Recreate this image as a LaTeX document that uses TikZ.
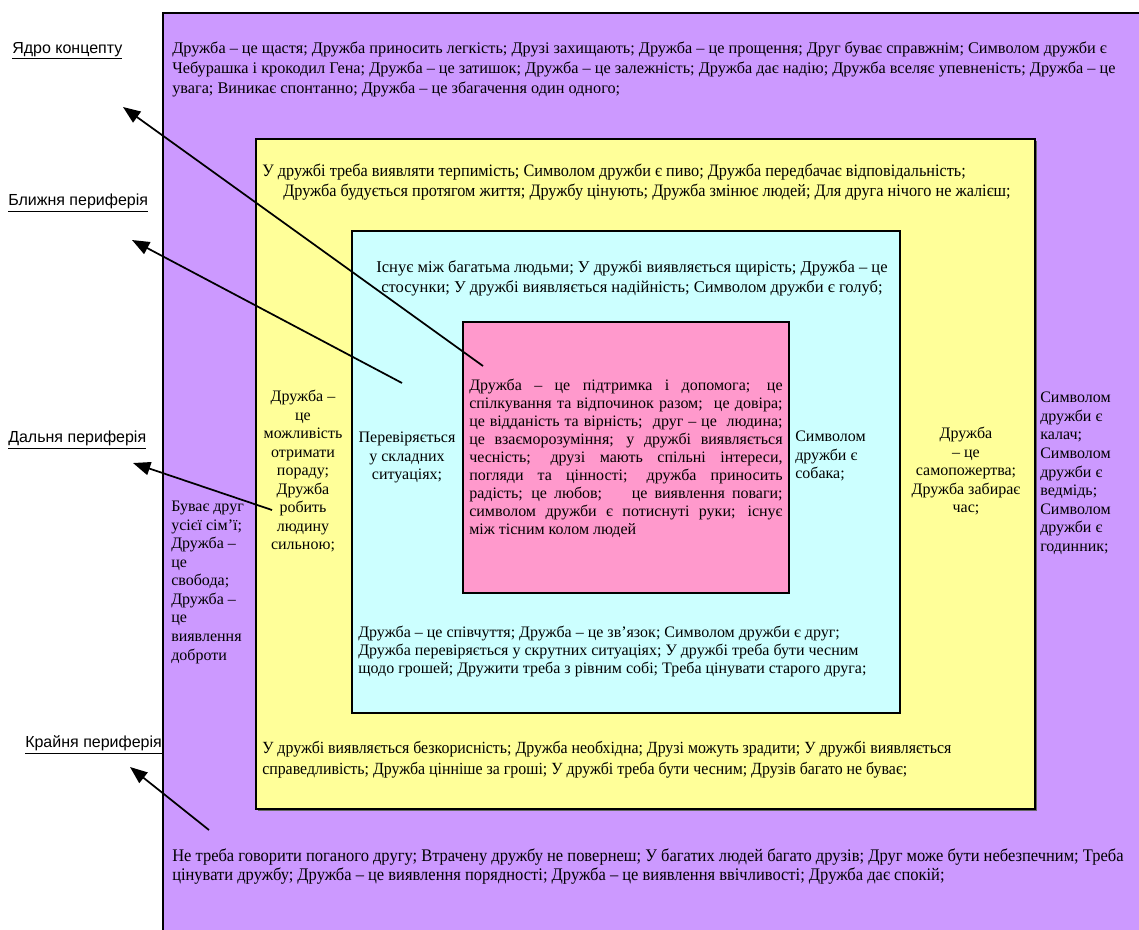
\documentclass[tikz,border=0pt]{standalone}
\usepackage{fontspec}
\setmainfont{Liberation Serif}
\newfontfamily\lblfont{Liberation Sans}
\newfontfamily\narrowfont[FakeStretch=0.93]{Liberation Serif}
\usepackage{tikz}
\usetikzlibrary{positioning,arrows.meta}

\definecolor{zonepurple}{RGB}{204,153,255}
\definecolor{zoneyellow}{RGB}{255,255,153}
\definecolor{zonecyan}{RGB}{204,255,255}
\definecolor{zonepink}{RGB}{255,153,204}

\tikzset{
  zone/.style={draw=black, line width=1.2pt, anchor=north west, inner sep=0pt},
  txt/.style={inner sep=0pt, font=\fontsize{12.2}{15}\selectfont},
  coltxt/.style={inner sep=0pt, font=\fontsize{12}{13.9}\selectfont},
  lbl/.style={inner sep=0pt, anchor=west, font=\lblfont\fontsize{12}{14}\selectfont},
  pointer/.style={black, line width=1.3pt, <-, >={Triangle[length=13pt,width=10pt]}}
}

\begin{document}
\begin{tikzpicture}[x=0.75pt, y=-0.75pt]
\useasboundingbox (0,0) rectangle (1139,929);
\clip (0,0) rectangle (1139,929);

\fill[zonepurple] (163,13) rectangle (1145,935);
\draw[black, line width=1.2pt] (163,935) -- (163,13) -- (1145,13);
\fill[black!60] (258,141) rectangle (1037,811);
\node[zone, fill=zoneyellow, minimum width=779*0.75pt, minimum height=670*0.75pt] (yellowbox) at (255,138) {};
\node[zone, fill=zonecyan, minimum width=548*0.75pt, minimum height=482*0.75pt] (cyanbox) at (351,230) {};
\node[zone, fill=zonepink, minimum width=326*0.75pt, minimum height=271*0.75pt] (pinkbox) at (462,321) {};

\node[txt, anchor=north west, align=left] (topPurple) at (172,42)
  {Дружба – це щастя; Дружба приносить легкість; Друзі захищають; Дружба – це прощення; Друг буває справжнім; Символом дружби є\\
   Чебурашка і крокодил Гена; Дружба – це затишок; Дружба – це залежність; Дружба дає надію; Дружба вселяє упевненість; Дружба – це\\
   увага; Виникає спонтанно; Дружба – це збагачення один одного;};

\node[txt, anchor=north west, align=left, font=\narrowfont\fontsize{13.1}{15}\selectfont] (topYellow) at (262,164)
  {У дружбі треба виявляти терпимість; Символом дружби є пиво; Дружба передбачає відповідальність;\\
   \hspace*{15.75pt}Дружба будується протягом життя; Дружбу цінують; Дружба змінює людей; Для друга нічого не жалієш;};

\node[txt, anchor=north, align=center, font=\fontsize{12.4}{15}\selectfont] (topCyan) at (632,260)
  {Існує між багатьма людьми; У дружбі виявляється щирість; Дружба – це\\
   стосунки; У дружбі виявляється надійність; Символом дружби є голуб;};

\node[txt, anchor=north west, align=justify, text width=235pt, font=\fontsize{12}{13.5}\selectfont] (pinkTxt) at (469,379)
  {Дружба – це підтримка і допомога; це\linebreak
   спілкування та відпочинок разом;~ це довіра;\linebreak
   це відданість та вірність;~ друг – це~ людина;\linebreak
   це взаєморозуміння; у дружбі виявляється\linebreak
   чесність; друзі мають спільні інтереси,\linebreak
   погляди та цінності; дружба приносить\linebreak
   радість; це любов;~~~ це виявлення поваги;\linebreak
   символом дружби є потиснуті руки; існує\linebreak
   між тісним колом людей};

\node[coltxt, anchor=north, align=center] (leftYellow) at (303,390)
  {Дружба –\\це\\можливість\\отримати\\пораду;\\Дружба\\робить\\людину\\сильною;};

\node[coltxt, anchor=north west, align=left] (leftPurple) at (171,501)
  {Буває друг\\усієї сім’ї;\\Дружба –\\це\\свобода;\\Дружба –\\це\\виявлення\\доброти};

\node[coltxt, anchor=north, align=center] (leftCyan) at (407,432)
  {Перевіряється\\у складних\\ситуаціях;};

\node[coltxt, anchor=north west, align=left] (rightCyan) at (795,431)
  {Символом\\дружби є\\собака;};

\node[coltxt, anchor=north, align=center] (rightYellow) at (966,427)
  {Дружба\\– це\\самопожертва;\\Дружба забирає\\час;};

\node[coltxt, anchor=north west, align=left] (rightPurple) at (1040,392)
  {Символом\\дружби є\\калач;\\Символом\\дружби є\\ведмідь;\\Символом\\дружби є\\годинник;};

\node[txt, anchor=north west, align=left, font=\fontsize{12}{13.5}\selectfont] (bottomCyan) at (358,626)
  {Дружба – це співчуття; Дружба – це зв’язок; Символом дружби є друг;\\
   Дружба перевіряється у скрутних ситуаціях; У дружбі треба бути чесним\\
   щодо грошей; Дружити треба з рівним собі; Треба цінувати старого друга;};

\node[txt, anchor=north west, align=left, font=\narrowfont\fontsize{12.8}{15.75}\selectfont] (bottomYellow) at (262,741)
  {У дружбі виявляється безкорисність; Дружба необхідна; Друзі можуть зрадити; У дружбі виявляється\\
   справедливість; Дружба цінніше за гроші; У дружбі треба бути чесним; Друзів багато не буває;};

\node[txt, anchor=north west, align=left, font=\narrowfont\fontsize{13.3}{14.25}\selectfont] (bottomPurple) at (172,849)
  {Не треба говорити поганого другу; Втрачену дружбу не повернеш; У багатих людей багато друзів; Друг може бути небезпечним; Треба\\
   цінувати дружбу; Дружба – це виявлення порядності; Дружба – це виявлення ввічливості; Дружба дає спокій;};

\node[lbl] (coreLbl) at (12,51) {\underline{Ядро концепту}};
\node[lbl] (nearLbl) at (8,203) {\underline{Ближня периферія}};
\node[lbl] (farLbl) at (8,440) {\underline{Дальня периферія}};
\node[lbl] (edgeLbl) at (25,745) {\underline{Крайня периферія}};

\coordinate (coreTip) at (123,107);
\coordinate (coreEnd) at (483,366);
\coordinate (nearTip) at (132,240);
\coordinate (nearEnd) at (402,383);
\coordinate (farTip) at (133,463);
\coordinate (farEnd) at (272,510);
\coordinate (edgeTip) at (130,767);
\coordinate (edgeEnd) at (209,830);

\draw[pointer] (coreTip) -- (coreEnd);
\draw[pointer] (nearTip) -- (nearEnd);
\draw[pointer] (farTip) -- (farEnd);
\draw[pointer] (edgeTip) -- (edgeEnd);
\end{tikzpicture}
\end{document}
